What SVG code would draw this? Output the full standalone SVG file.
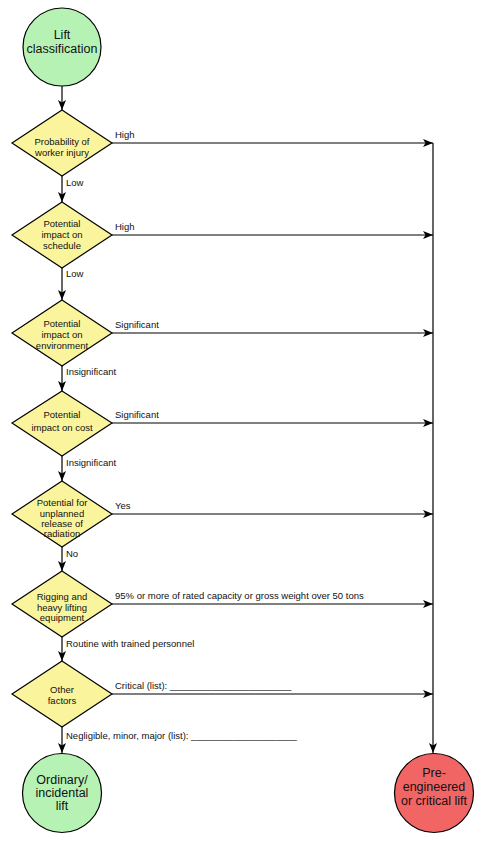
<svg xmlns="http://www.w3.org/2000/svg" width="492" height="850" viewBox="0 0 492 850">
<style>
.bg{fill:#ffffff}
.dia{fill:#faf59c;stroke:#000;stroke-width:1.2}
.cg{fill:#b7f2b5;stroke:#000;stroke-width:1.2}
.cr{fill:#f26565;stroke:#000;stroke-width:1.2}
.ln{fill:none;stroke:#000;stroke-width:1.2}
.t{font-family:"Liberation Sans",Arial,sans-serif;font-size:9.5px;fill:#111;text-anchor:middle}
.c{font-family:"Liberation Sans",Arial,sans-serif;font-size:12.5px;fill:#111;text-anchor:middle}
.l{font-family:"Liberation Sans",Arial,sans-serif;font-size:9.5px;fill:#111}
</style>
<defs>
<marker id="ah" viewBox="0 0 10 8" refX="10" refY="4" markerWidth="10" markerHeight="8" markerUnits="userSpaceOnUse" orient="auto">
<path d="M0,0 L10,4 L0,8 L2.5,4 Z" fill="#000"/>
</marker>
</defs>
<rect class="bg" x="0" y="0" width="492" height="850"/>
<g id="connectors">
<line class="ln" x1="62" y1="86" x2="62" y2="110" marker-end="url(#ah)"/>
<line class="ln" x1="62" y1="176" x2="62" y2="202" marker-end="url(#ah)"/>
<line class="ln" x1="62" y1="267" x2="62" y2="300" marker-end="url(#ah)"/>
<line class="ln" x1="62" y1="366" x2="62" y2="391" marker-end="url(#ah)"/>
<line class="ln" x1="62" y1="456" x2="62" y2="481" marker-end="url(#ah)"/>
<line class="ln" x1="62" y1="547" x2="62" y2="571" marker-end="url(#ah)"/>
<line class="ln" x1="62" y1="637" x2="62" y2="661" marker-end="url(#ah)"/>
<line class="ln" x1="62" y1="727" x2="62" y2="753" marker-end="url(#ah)"/>
<line class="ln" x1="112" y1="143" x2="433" y2="143" marker-end="url(#ah)"/>
<line class="ln" x1="112" y1="235" x2="433" y2="235" marker-end="url(#ah)"/>
<line class="ln" x1="112" y1="333" x2="433" y2="333" marker-end="url(#ah)"/>
<line class="ln" x1="112" y1="423" x2="433" y2="423" marker-end="url(#ah)"/>
<line class="ln" x1="112" y1="514" x2="433" y2="514" marker-end="url(#ah)"/>
<line class="ln" x1="112" y1="604" x2="433" y2="604" marker-end="url(#ah)"/>
<line class="ln" x1="112" y1="694" x2="433" y2="694" marker-end="url(#ah)"/>
<line class="ln" x1="433" y1="143" x2="433" y2="753" marker-end="url(#ah)"/>
<text class="l" x="115" y="138">High</text>
<text class="l" x="66" y="186">Low</text>
<text class="l" x="115" y="230">High</text>
<text class="l" x="66" y="277">Low</text>
<text class="l" x="115" y="328">Significant</text>
<text class="l" x="66" y="375">Insignificant</text>
<text class="l" x="115" y="418">Significant</text>
<text class="l" x="66" y="466">Insignificant</text>
<text class="l" x="115" y="509">Yes</text>
<text class="l" x="66" y="557">No</text>
<text class="l" x="115" y="599">95% or more of rated capacity or gross weight over 50 tons</text>
<text class="l" x="66" y="647">Routine with trained personnel</text>
<text class="l" x="115" y="689">Critical (list): _______________________</text>
<text class="l" x="66" y="739">Negligible, minor, major (list): ____________________</text>
</g>
<g id="start">
<circle class="cg" cx="62" cy="47" r="39"/>
<text class="c" x="62" y="38.5">Lift</text>
<text class="c" x="62" y="52.5">classification</text>
</g>
<g id="d1">
<polygon class="dia" points="62,110 112,143 62,176 12,143"/>
<text class="t" x="62" y="145">Probability of</text>
<text class="t" x="62" y="156">worker injury</text>
</g>
<g id="d2">
<polygon class="dia" points="62,202 112,235 62,268 12,235"/>
<text class="t" x="62" y="227">Potential</text>
<text class="t" x="62" y="238">impact on</text>
<text class="t" x="62" y="249">schedule</text>
</g>
<g id="d3">
<polygon class="dia" points="62,300 112,333 62,366 12,333"/>
<text class="t" x="62" y="327">Potential</text>
<text class="t" x="62" y="338">impact on</text>
<text class="t" x="62" y="349">environment</text>
</g>
<g id="d4">
<polygon class="dia" points="62,391 112,423 62,456 12,423"/>
<text class="t" x="62" y="418">Potential</text>
<text class="t" x="62" y="431">impact on cost</text>
</g>
<g id="d5">
<polygon class="dia" points="62,481 112,514 62,547 12,514"/>
<text class="t" x="62" y="506">Potential for</text>
<text class="t" x="62" y="516.5">unplanned</text>
<text class="t" x="62" y="527">release of</text>
<text class="t" x="62" y="537">radiation</text>
</g>
<g id="d6">
<polygon class="dia" points="62,571 112,604 62,637 12,604"/>
<text class="t" x="62" y="599.5">Rigging and</text>
<text class="t" x="62" y="610.5">heavy lifting</text>
<text class="t" x="62" y="621">equipment</text>
</g>
<g id="d7">
<polygon class="dia" points="62,661 112,694 62,727 12,694"/>
<text class="t" x="62" y="693">Other</text>
<text class="t" x="62" y="704">factors</text>
</g>
<g id="ordinary">
<circle class="cg" cx="62" cy="793" r="39.5"/>
<text class="c" x="62" y="784">Ordinary/</text>
<text class="c" x="62" y="797">incidental</text>
<text class="c" x="62" y="810">lift</text>
</g>
<g id="critical">
<circle class="cr" cx="434" cy="793" r="39.5"/>
<text class="c" x="434" y="777">Pre-</text>
<text class="c" x="434" y="791">engineered</text>
<text class="c" x="434" y="805">or critical lift</text>
</g>
</svg>
